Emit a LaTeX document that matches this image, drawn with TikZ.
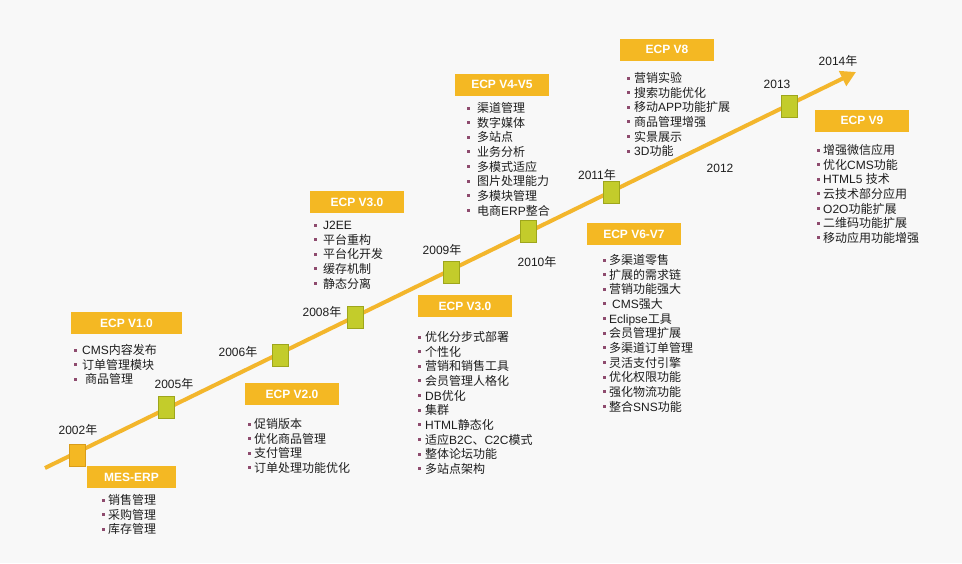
\documentclass[tikz,border=0pt]{standalone}
\usepackage{fontspec}
\setmainfont{Liberation Sans}
\newfontfamily\cjkfont{Noto Sans CJK SC}
\usetikzlibrary{arrows.meta}
\makeatletter
\newXeTeXintercharclass\cjkclass
\count@="4E00
\loop\XeTeXcharclass\count@=\cjkclass\advance\count@ by 1 \ifnum\count@<"A000 \repeat
\count@="3000
\loop\XeTeXcharclass\count@=\cjkclass\advance\count@ by 1 \ifnum\count@<"3040 \repeat
\count@="FF00
\loop\XeTeXcharclass\count@=\cjkclass\advance\count@ by 1 \ifnum\count@<"FFF0 \repeat
\XeTeXinterchartoks 0 \cjkclass = {\begingroup\cjkfont}
\XeTeXinterchartoks 4095 \cjkclass = {\begingroup\cjkfont}
\XeTeXinterchartoks \cjkclass 0 = {\endgroup}
\XeTeXinterchartoks \cjkclass 4095 = {\endgroup}
\makeatother
\XeTeXinterchartokenstate=1
\definecolor{bgcol}{HTML}{F8F8F8}
\definecolor{titlecol}{HTML}{F4B823}
\definecolor{linecol}{HTML}{F3B62C}
\definecolor{greencol}{HTML}{C3CC2B}
\definecolor{greenedge}{HTML}{9EA61C}
\definecolor{orangeedge}{HTML}{D99C1A}
\definecolor{txtcol}{HTML}{1E1E1E}
\definecolor{bulcol}{HTML}{8E4B6E}
\tikzset{
  titlebox/.style={fill=titlecol, minimum width=94pt, minimum height=22pt, inner sep=0pt,
    text=white, font=\fontsize{12}{14}\selectfont\bfseries},
  yearlbl/.style={anchor=base, inner sep=0pt, text=txtcol, font=\fontsize{12}{14}\selectfont},
  itemtxt/.style={anchor=base west, inner sep=0pt, text=txtcol, font=\fontsize{12}{14}\selectfont},
  bulmark/.style={fill=bulcol, minimum size=3pt, inner sep=0pt, draw=none},
  milestone/.style={fill=greencol, draw=greenedge, line width=0.6pt, minimum width=16pt, minimum height=22pt, inner sep=0pt},
  firststone/.style={fill=titlecol, draw=orangeedge, line width=0.6pt, minimum width=16pt, minimum height=22pt, inner sep=0pt},
  timeline/.style={draw=linecol, line width=4pt, -{Triangle[length=15pt,width=16pt]}},
}
\newcommand\blist[5]{%
  \foreach \t [count=\i] in {#5}{%
    \node[bulmark] (#1b\i) at ({#2},{#4+(\i-1)*14.65}) {};
    \node[itemtxt] (#1t\i) at ({#3},{#4+(\i-1)*14.65+4.5}) {\t};
  }%
}
\begin{document}
\begin{tikzpicture}[x=1pt,y=-1pt]
\fill[bgcol] (0,0) rectangle (962,563);
\useasboundingbox (0,0) rectangle (962,563);
% timeline
\coordinate (start) at (45,468);
\coordinate (tip) at (856,72);
\draw[timeline] (start) -- (tip);
% milestones
\node[firststone] (sq02) at (77,455) {};
\node[milestone] (sq05) at (166,407) {};
\node[milestone] (sq06) at (280,355) {};
\node[milestone] (sq08) at (355,317) {};
\node[milestone] (sq09) at (451,272) {};
\node[milestone] (sq10) at (528,231) {};
\node[milestone] (sq11) at (611,192) {};
\node[milestone] (sq13) at (789,106) {};
% year labels
\node[yearlbl] (y02) at (78,434.4) {2002年};
\node[yearlbl] (y05) at (174,388.4) {2005年};
\node[yearlbl] (y06) at (238,356.4) {2006年};
\node[yearlbl] (y08) at (322,316.4) {2008年};
\node[yearlbl] (y09) at (442,254.4) {2009年};
\node[yearlbl] (y10) at (537,266.4) {2010年};
\node[yearlbl] (y11) at (597,179.4) {2011年};
\node[yearlbl] (y12) at (720,172.4) {2012};
\node[yearlbl] (y13) at (777,88.4) {2013};
\node[yearlbl] (y14) at (838,65.4) {2014年};
% title boxes
\node[titlebox, minimum width=89pt] (tmes) at (131.5,477) {MES-ERP};
\node[titlebox, minimum width=111pt] (tv1) at (126.5,323) {ECP V1.0};
\node[titlebox] (tv2) at (292,394) {ECP V2.0};
\node[titlebox] (tv3a) at (357,202) {ECP V3.0};
\node[titlebox] (tv3b) at (465,306) {ECP V3.0};
\node[titlebox] (tv45) at (502,84.5) {ECP V4-V5};
\node[titlebox] (tv8) at (667,49.5) {ECP V8};
\node[titlebox] (tv67) at (634,234) {ECP V6-V7};
\node[titlebox] (tv9) at (862,120.5) {ECP V9};
% lists
\blist{mes}{103.2}{108}{500}{销售管理,采购管理,库存管理}
\blist{va}{75.5}{82}{350}{CMS内容发布,订单管理模块,{\hspace{3pt}商品管理}}
\blist{vb}{249.2}{254}{424}{促销版本,优化商品管理,支付管理,订单处理功能优化}
\blist{vc}{315.2}{323}{225}{J2EE,平台重构,平台化开发,缓存机制,静态分离}
\blist{vd}{419.2}{425}{337}{优化分步式部署,个性化,营销和销售工具,会员管理人格化,DB优化,集群,HTML静态化,适应B2C、C2C模式,整体论坛功能,多站点架构}
\blist{ve}{468.2}{477}{108}{渠道管理,数字媒体,多站点,业务分析,多模式适应,图片处理能力,多模块管理,电商ERP整合}
\blist{vf}{628.2}{634}{78}{营销实验,搜索功能优化,移动APP功能扩展,商品管理增强,实景展示,3D功能}
\blist{vg}{604.2}{609}{260}{多渠道零售,扩展的需求链,营销功能强大,{\hspace{3pt}CMS强大},Eclipse工具,会员管理扩展,多渠道订单管理,灵活支付引擎,优化权限功能,强化物流功能,整合SNS功能}
\blist{vh}{818.2}{823}{150}{增强微信应用,优化CMS功能,HTML5 技术,云技术部分应用,O2O功能扩展,二维码功能扩展,移动应用功能增强}
\end{tikzpicture}
\end{document}
